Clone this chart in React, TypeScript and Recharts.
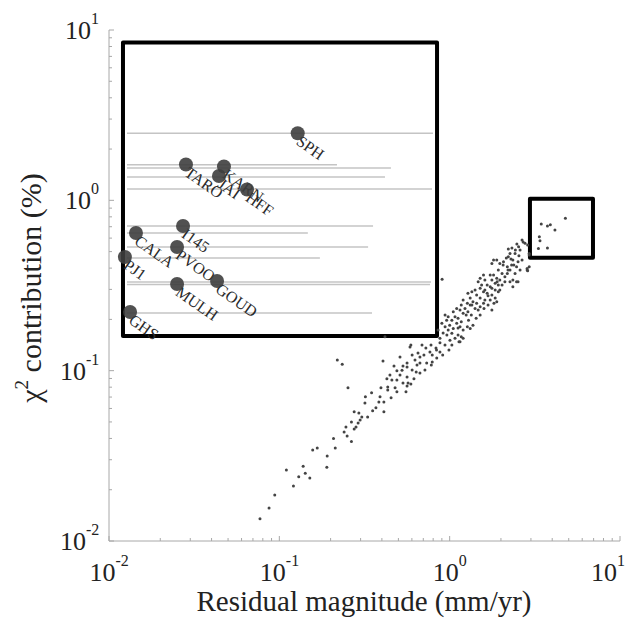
import React from 'react';
import { ScatterChart, Scatter, XAxis, YAxis, ReferenceArea, ReferenceLine } from 'recharts';

const SERIF = '"Liberation Serif", "DejaVu Serif", "Times New Roman", serif';

// log axis ticks (majors get a label)
const MAJOR_TICKS = [0.01, 0.1, 1, 10];
const LOG_TICKS = [
  0.01, 0.02, 0.03, 0.04, 0.05, 0.06, 0.07, 0.08, 0.09,
  0.1, 0.2, 0.3, 0.4, 0.5, 0.6, 0.7, 0.8, 0.9,
  1, 2, 3, 4, 5, 6, 7, 8, 9, 10,
];

// residual magnitude (mm/yr) vs chi^2 contribution (%) for every site
const residualCloud = [
  [0.077, 0.0135], [0.087, 0.0156], [0.094, 0.0186], [0.121, 0.021], [0.110, 0.0261], [0.130, 0.0238],
  [0.142, 0.025], [0.151, 0.0234], [0.138, 0.0275], [0.190, 0.0271], [0.191, 0.0316], [0.157, 0.0342],
  [0.167, 0.0351], [0.213, 0.0351], [0.208, 0.040], [0.265, 0.0384],
  [0.240, 0.0437], [0.246, 0.0467], [0.275, 0.0455], [0.282, 0.0467], [0.290, 0.0493], [0.265, 0.050],
  [0.305, 0.0535], [0.330, 0.0535], [0.293, 0.0565], [0.275, 0.0573], [0.369, 0.0605], [0.411, 0.0573],
  [0.318, 0.0646], [0.411, 0.0655], [0.320, 0.0703], [0.348, 0.0741], [0.390, 0.0703], [0.253, 0.0794],
  [0.395, 0.0794], [0.433, 0.077], [0.433, 0.0802], [0.478, 0.0794], [0.428, 0.0898], [0.446, 0.0943],
  [0.458, 0.0881], [0.490, 0.0881], [0.554, 0.0753], [0.562, 0.0813], [0.570, 0.0847], [0.532, 0.0847],
  [0.511, 0.0943], [0.562, 0.0918],
  [0.219, 0.1155], [0.234, 0.1092], [0.406, 0.114], [0.471, 0.1066], [0.490, 0.100], [0.525, 0.1005],
  [0.532, 0.1066], [0.562, 0.1051], [0.602, 0.1009], [0.636, 0.0982], [0.669, 0.0969], [0.643, 0.108],
  [0.669, 0.111], [0.626, 0.1155], [0.602, 0.1236], [0.652, 0.127], [0.669, 0.1202], [0.706, 0.1236],
  [0.733, 0.111], [0.790, 0.1125], [0.766, 0.1288], [0.725, 0.1358], [0.777, 0.1415], [0.831, 0.1358],
  [0.877, 0.1288], [0.877, 0.146], [0.790, 0.1236], [0.592, 0.1415], [1.134, 0.1478], [0.511, 0.1202],
  [0.562, 0.111], [0.585, 0.1377], [0.688, 0.1415], [0.837, 0.1322], [0.877, 0.155], [0.915, 0.1666],
  [0.855, 0.173], [0.417, 0.158],
  [0.903, 0.344], [2.70, 0.570], [2.87, 0.547], [2.93, 0.488], [2.54, 0.534], [2.43, 0.511], [2.42, 0.488],
  [2.26, 0.488], [2.21, 0.466], [2.35, 0.446], [2.52, 0.436], [2.47, 0.407], [2.85, 0.390], [2.93, 0.407],
  [2.59, 0.390], [2.31, 0.417], [2.18, 0.407], [2.07, 0.436], [1.97, 0.426], [1.89, 0.446], [1.81, 0.446],
  [1.77, 0.426], [1.93, 0.390], [2.03, 0.372], [2.18, 0.372], [2.26, 0.390], [2.42, 0.372], [2.35, 0.341],
  [2.47, 0.333], [2.26, 0.333], [2.35, 0.311], [2.11, 0.333], [1.97, 0.341], [1.89, 0.349], [1.81, 0.364],
  [1.73, 0.364], [1.77, 0.341], [1.85, 0.326], [1.93, 0.318], [1.97, 0.298], [1.85, 0.298], [1.73, 0.311],
  [1.66, 0.318], [1.61, 0.341], [1.58, 0.364], [1.51, 0.349], [1.47, 0.333], [1.54, 0.318], [1.51, 0.305],
  [1.58, 0.291], [1.66, 0.285], [1.77, 0.278], [1.85, 0.267], [1.89, 0.254], [1.73, 0.260], [1.61, 0.260],
  [1.51, 0.267], [1.44, 0.278], [1.41, 0.298], [1.35, 0.291], [1.28, 0.285], [1.32, 0.267], [1.37, 0.254],
  [1.44, 0.249], [1.51, 0.237], [1.41, 0.232], [1.35, 0.243], [1.27, 0.249], [1.20, 0.260], [1.17, 0.243],
  [1.23, 0.232], [1.28, 0.222], [1.20, 0.217], [1.15, 0.227], [1.10, 0.232], [1.05, 0.222], [1.075, 0.207],
  [1.12, 0.203], [1.17, 0.194], [1.27, 0.181], [1.32, 0.177], [1.15, 0.181], [1.10, 0.190], [1.03, 0.198],
  [0.98, 0.207], [0.94, 0.212], [0.96, 0.198], [1.00, 0.185], [1.05, 0.177], [0.98, 0.173], [0.94, 0.181],
  [0.90, 0.190], [1.03, 0.166], [1.12, 0.162], [1.075, 0.155], [1.15, 0.148], [1.17, 0.158], [1.51, 0.212],
  [1.58, 0.249], [1.93, 0.291],
  [2.66, 0.585], [2.77, 0.560], [2.93, 0.478], [2.85, 0.398], [2.87, 0.386], [2.52, 0.333], [2.21, 0.518],
  [0.9385, 0.1415], [1.004, 0.151], [0.963, 0.162], [1.03, 0.1415], [1.20, 0.173], [1.29, 0.198],
  [1.34, 0.212], [1.43, 0.203], [1.37, 0.185], [1.47, 0.227], [1.59, 0.232], [1.68, 0.243], [1.77, 0.227],
  [1.82, 0.249], [1.68, 0.275], [1.77, 0.305], [1.90, 0.333], [2.03, 0.318], [2.11, 0.356], [2.20, 0.390],
  [2.06, 0.417], [2.15, 0.458], [2.29, 0.452], [2.38, 0.417], [2.55, 0.472], [2.66, 0.446], [2.59, 0.511],
  [2.48, 0.555], [2.32, 0.525], [1.61, 0.298], [1.32, 0.243], [1.25, 0.212], [1.12, 0.178], [1.20, 0.155],
  [0.99, 0.1322], [0.91, 0.1236], [0.84, 0.1186], [0.78, 0.108], [0.716, 0.1009], [0.617, 0.0898],
  [0.592, 0.0835], [0.49, 0.0753], [0.453, 0.0694], [0.384, 0.0655], [0.353, 0.0581], [0.298, 0.0513],
  [0.250, 0.0413],
  [4.78, 0.785], [3.45, 0.726], [3.75, 0.706], [4.15, 0.669], [3.36, 0.612], [3.39, 0.580], [3.32, 0.522],
  [3.75, 0.525], [3.9, 0.72],
];

// inset: labelled stations
const stationNames = ['SPH', 'TARO', 'KARN', 'JAI', 'HFF', 'I145', 'CALA', 'PVOO', 'PJ1', 'GOUD', 'MULH', 'GHS'];
const stationX = [0.1282, 0.0283, 0.0473, 0.0442, 0.0646, 0.0272, 0.0144, 0.0251, 0.0124, 0.0431, 0.0251, 0.0133];
const stationY = [2.475, 1.623, 1.579, 1.389, 1.158, 0.7068, 0.6431, 0.532, 0.4649, 0.3361, 0.3227, 0.2211];

// inset: horizontal bars
const barStart = 0.01275;
const barY = [2.48, 1.62, 1.548, 1.371, 1.166, 0.707, 0.643, 0.532, 0.4585, 0.3316, 0.3205, 0.2181];
const barEnd = [0.798, 0.218, 0.452, 0.417, 0.788, 0.355, 0.147, 0.332, 0.173, 0.777, 0.767, 0.35];

// boxes (data coords)
const insetBox = { x1: 0.01208, x2: 0.843, y1: 0.16, y2: 8.45 };
const zoomBox = { x1: 2.96, x2: 6.94, y1: 0.46, y2: 1.02 };

const cloudData = residualCloud.map(([x, y]) => ({ x, y }));
const stationData = stationNames.map((name, i) => ({ name, x: stationX[i], y: stationY[i] }));

const isMajor = (v: number) => MAJOR_TICKS.some((m) => Math.abs(m - v) < 1e-9);
const expOf = (v: number) => String(Math.round(Math.log10(v)));
const FRAME = '#a8a8a8';
const RIGHT_LIMIT = 617; // keep the last tick label inside the visible page

// "10" + superscript exponent, drawn as two pieces
const PowerLabel = ({ x, y, v, anchor }: { x: number; y: number; v: number; anchor: 'middle' | 'end' }) => {
  const exp = expOf(v);
  const expW = exp.length > 1 ? 13 : 8;
  let baseEnd = anchor === 'middle' ? x + 13 - expW / 2 : x - expW;
  baseEnd -= Math.max(0, baseEnd + expW - RIGHT_LIMIT);
  return (
    <g fontFamily={SERIF} fill="#222">
      <text x={baseEnd} y={y} textAnchor="end" fontSize={26}>10</text>
      <text x={baseEnd} y={y - 15} textAnchor="start" fontSize={16}>{exp}</text>
    </g>
  );
};

const BottomTick = (props: any) => {
  const { x, y, payload } = props;
  const major = isMajor(payload.value);
  return (
    <g>
      <line x1={x} x2={x} y1={y} y2={y - (major ? 5 : 3)} stroke={FRAME} />
      {major && <PowerLabel x={x} y={y + 40} v={payload.value} anchor="middle" />}
    </g>
  );
};

const LeftTick = (props: any) => {
  const { x, y, payload } = props;
  const major = isMajor(payload.value);
  return (
    <g>
      <line x1={x} x2={x + (major ? 5 : 3)} y1={y} y2={y} stroke={FRAME} />
      {major && <PowerLabel x={x - 10} y={y + 9} v={payload.value} anchor="end" />}
    </g>
  );
};

const TopTick = (props: any) => {
  const { x, y, payload } = props;
  return <line x1={x} x2={x} y1={y} y2={y + (isMajor(payload.value) ? 5 : 3)} stroke={FRAME} />;
};

const RightTick = (props: any) => {
  const { x, y, payload } = props;
  return <line x1={x} x2={x - (isMajor(payload.value) ? 5 : 3)} y1={y} y2={y} stroke={FRAME} />;
};

const XTitle = () => (
  <text x={356} y={603} textAnchor="middle" fontFamily={SERIF} fontSize={29} fill="#222">
    Residual magnitude (mm/yr)
  </text>
);

const YTitle = () => (
  <text x={33} y={280} textAnchor="middle" fontFamily={SERIF} fontSize={30} fill="#222" transform="rotate(-90 33 280)">
    χ<tspan dy={-13} fontSize={19}>2</tspan><tspan dy={13}> contribution (%)</tspan>
  </text>
);

const CloudDot = (props: any) => <circle cx={props.cx} cy={props.cy} r={1.5} fill="#444" />;

const StationMark = (props: any) => {
  const { cx, cy, payload } = props;
  return (
    <g>
      <text
        x={cx + 4}
        y={cy + 10}
        transform={`rotate(35 ${cx} ${cy})`}
        fontFamily={SERIF}
        fontSize={16}
        fill="#2a2a2a"
      >
        {payload.name}
      </text>
      <circle cx={cx} cy={cy} r={7} fill="#3e3e3e" fillOpacity={0.9} />
    </g>
  );
};

export default function App() {
  return (
    <div style={{ width: 630, height: 611 }}>
      <style>{'html,body{overflow:hidden}'}</style>
      <ScatterChart width={630} height={611} margin={{ top: 22, right: 18, bottom: 0, left: 0 }}>
        <XAxis
          dataKey="x"
          type="number"
          scale="log"
          domain={[0.01, 10]}
          allowDataOverflow
          ticks={LOG_TICKS}
          interval={0}
          height={78}
          tickSize={0}
          tickMargin={0}
          tickLine={false}
          tick={<BottomTick />}
          axisLine={{ stroke: FRAME }}
          label={<XTitle />}
        />
        <XAxis
          xAxisId="top"
          orientation="top"
          type="number"
          scale="log"
          domain={[0.01, 10]}
          allowDataOverflow
          ticks={LOG_TICKS}
          interval={0}
          height={0}
          tickSize={0}
          tickMargin={0}
          tickLine={false}
          tick={<TopTick />}
          axisLine={{ stroke: FRAME }}
        />
        <YAxis
          dataKey="y"
          type="number"
          scale="log"
          domain={[0.01, 10]}
          allowDataOverflow
          ticks={LOG_TICKS}
          interval={0}
          width={101}
          tickSize={0}
          tickMargin={0}
          tickLine={false}
          tick={<LeftTick />}
          axisLine={{ stroke: FRAME }}
          label={<YTitle />}
        />
        <YAxis
          yAxisId="right"
          orientation="right"
          type="number"
          scale="log"
          domain={[0.01, 10]}
          allowDataOverflow
          ticks={LOG_TICKS}
          interval={0}
          width={0}
          tickSize={0}
          tickMargin={0}
          tickLine={false}
          tick={<RightTick />}
          axisLine={{ stroke: FRAME }}
        />

        <Scatter data={cloudData} shape={<CloudDot />} isAnimationActive={false} />

        <ReferenceArea
          {...insetBox}
          fill="none"
          stroke="#000"
          strokeWidth={4}
          strokeLinejoin="round"
        />
        <ReferenceArea
          {...zoomBox}
          fill="none"
          stroke="#000"
          strokeWidth={4}
          strokeLinejoin="round"
        />

        {barY.map((y, i) => (
          <ReferenceLine
            key={i}
            segment={[{ x: barStart, y }, { x: barEnd[i], y }]}
            stroke="#c4c4c4"
            strokeWidth={1.5}
          />
        ))}

        <Scatter data={stationData} shape={<StationMark />} isAnimationActive={false} />
      </ScatterChart>
    </div>
  );
}
